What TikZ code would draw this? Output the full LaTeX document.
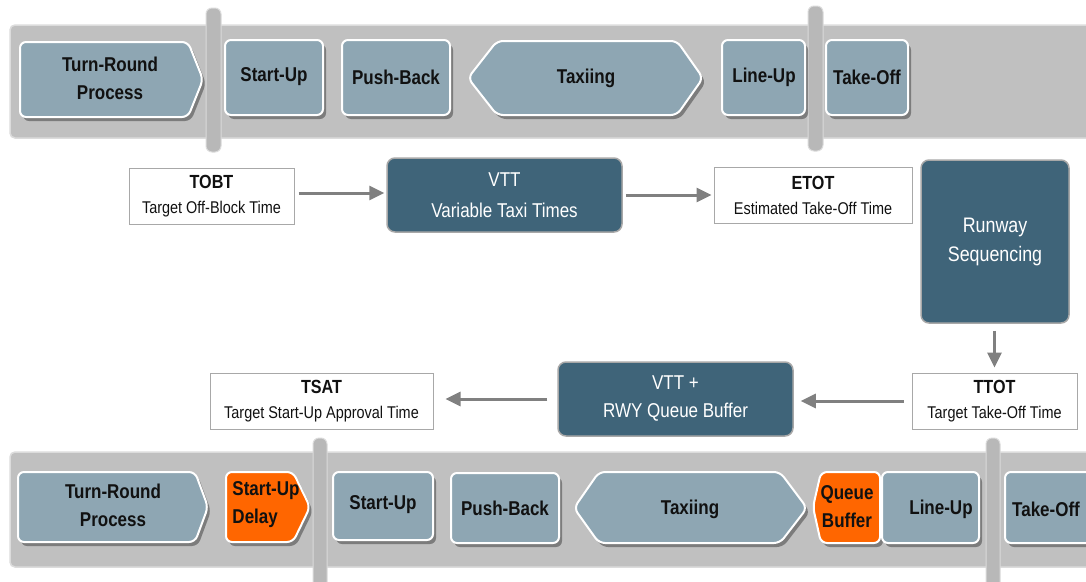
\documentclass[tikz,border=0pt]{standalone}
\usepackage{fontspec}
\setmainfont{Liberation Sans}
\newfontfamily\nar[FakeStretch=0.85]{Liberation Sans}
\usetikzlibrary{shadows,arrows.meta}
\definecolor{stagec}{HTML}{8EA6B3}
\definecolor{darkc}{HTML}{3F6479}
\definecolor{orangec}{HTML}{FF6600}
\definecolor{bandc}{HTML}{C0C0C0}
\definecolor{barc}{HTML}{B8B8B8}
\definecolor{arrc}{HTML}{808080}
\definecolor{boxline}{HTML}{A8A8A8}
\definecolor{txtc}{HTML}{111111}
\newcommand\myacr{\bfseries\fontsize{19}{25}\selectfont}
\tikzset{
 band/.style={fill=bandc, draw=bandc!55!white, line width=1.5pt, rounded corners=5pt},
 sepbar/.style={fill=barc, draw=barc!50!white, line width=1pt, rounded corners=6pt},
 stage/.style={fill=stagec, draw=white, line width=2pt, rounded corners=6pt,
   drop shadow={shadow xshift=3pt, shadow yshift=-4pt, fill=black, opacity=0.35}},
 delay/.style={stage, fill=orangec},
 stxt/.style={font=\nar\bfseries\fontsize{20}{28}\selectfont, text=txtc, align=center, inner sep=0pt},
 infobox/.style={draw=boxline, fill=white, line width=1pt, align=center, text=txtc,
   font=\nar\fontsize{17}{25}\selectfont, inner sep=0pt},
 darkbox/.style={draw=boxline, fill=darkc, line width=1.5pt, rounded corners=8pt, align=center,
   text=white, font=\nar\fontsize{20}{31}\selectfont, inner sep=0pt},
 flow/.style={draw=arrc, line width=3pt, -{Triangle[length=15pt,width=14pt]}},
}
\begin{document}
\begin{tikzpicture}[x=1pt,y=-1pt]
\useasboundingbox (0,0) rectangle (1086,581);
% ---------- top band ----------
\path[band] (10,25) rectangle (1096,138);
\path[sepbar] (206,8) rectangle (221,152);
\path[sepbar] (808,6) rectangle (823,151);
\path[stage] (20,42) -- (188,42) -- (203,79.5) -- (188,117) -- (20,117) -- cycle;
\path[stage] (225,40) rectangle (323,115);
\path[stage] (342,40) rectangle (450,115);
\path[stage] (468,78) -- (497,41) -- (677,41) -- (703,78) -- (677,115) -- (497,115) -- cycle;
\path[stage] (722,40) rectangle (805,115);
\path[stage] (826,40) rectangle (908,115);
\node[stxt] (t1) at (110,78) {Turn-Round\\Process};
\node[stxt] (t2) at (274,77) {Start-Up};
\node[stxt] (t3) at (396,77) {Push-Back};
\node[stxt] (t4) at (586,78) {Taxiing};
\node[stxt] (t5) at (764,77) {Line-Up};
\node[stxt] (t6) at (867,77) {Take-Off};
% ---------- bottom band ----------
\path[band] (10,452) rectangle (1096,567);
\path[sepbar] (313,438) rectangle (327,590);
\path[sepbar] (986,438) rectangle (1000,590);
\path[stage] (18,472) -- (195,472) -- (208,507) -- (195,542) -- (18,542) -- cycle;
\path[delay] (226,472) -- (293,472) -- (310,507) -- (293,542) -- (226,542) -- cycle;
\path[stage] (333,472) rectangle (433,540);
\path[stage] (451,473) rectangle (559,543);
\path[stage] (574,508) -- (599,472) -- (780,472) -- (807,508) -- (780,543) -- (599,543) -- cycle;
\path[delay] (813,507) -- (821,472) -- (880,472) -- (880,543) -- (821,543) -- cycle;
\path[stage] (882,472) rectangle (979,543);
\path[stage] (1005,472) rectangle (1096,543);
\node[stxt] (b1) at (113,505) {Turn-Round\\Process};
\node[stxt, align=left] (b2) at (266,505) {Start-Up\\Delay};
\node[stxt] (b3) at (383,505) {Start-Up};
\node[stxt] (b4) at (505,508) {Push-Back};
\node[stxt] (b5) at (690,509) {Taxiing};
\node[stxt] (b6) at (847,507) {Queue\\Buffer};
\node[stxt] (b7) at (941,509) {Line-Up};
\node[stxt] (b8) at (1046,509) {Take-Off};
% ---------- middle flow ----------
\node[infobox, minimum width=165pt, minimum height=56pt] (tobt) at (211.5,196)
  {{\myacr TOBT}\\Target Off-Block Time};
\node[darkbox, minimum width=235pt, minimum height=74pt] (vtt) at (504.5,195)
  {VTT\\Variable Taxi Times};
\node[infobox, minimum width=198pt, minimum height=56pt] (etot) at (813,195)
  {{\myacr ETOT}\\Estimated Take-Off Time};
\node[darkbox, font=\nar\fontsize{21}{29}\selectfont, minimum width=148pt, minimum height=163pt] (rwy) at (995,241.5)
  {Runway\\Sequencing};
\node[infobox, minimum width=165pt, minimum height=56pt] (ttot) at (994.5,401)
  {{\myacr TTOT}\\Target Take-Off Time};
\node[darkbox, font=\nar\fontsize{20}{28}\selectfont, minimum width=235pt, minimum height=74pt] (vttq) at (675.5,399)
  {VTT +\\RWY Queue Buffer};
\node[infobox, minimum width=223pt, minimum height=56pt] (tsat) at (321.5,401)
  {{\myacr TSAT}\\Target Start-Up Approval Time};
\draw[flow, shorten <=4pt, shorten >=2pt] ([yshift=3pt]tobt.east) -- ([yshift=3pt]tobt.east -| vtt.west);
\draw[flow, shorten <=3pt, shorten >=2pt] (vtt.east) -- (vtt.east -| etot.west);
\draw[flow, shorten <=7pt, shorten >=5pt] (rwy.south -| ttot.north) -- (ttot.north);
\draw[flow, shorten <=8pt, shorten >=7pt] (ttot.west) -- (ttot.west -| vttq.east);
\draw[flow, shorten <=10pt, shorten >=12pt] (vttq.west) -- (vttq.west -| tsat.east);
\end{tikzpicture}
\end{document}
